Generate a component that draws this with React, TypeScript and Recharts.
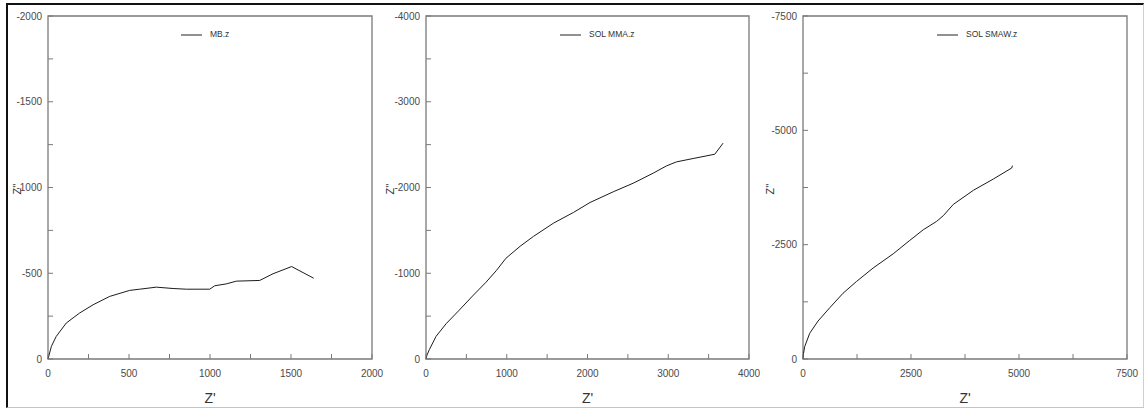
import React from 'react';
import { LineChart, Line, XAxis, YAxis, ReferenceArea, Legend } from 'recharts';

// MB.z  (Z', -Z'')
const mbRe = [0, 21, 51, 113, 195, 278, 381, 504, 566, 669, 772, 854, 998, 1029, 1101, 1163, 1307, 1389, 1504, 1640];
const mbIm = [0, -74, -132, -210, -268, -316, -365, -400, -407, -419, -411, -407, -407, -427, -438, -454, -458, -497, -539, -471];

// SOL MMA.z
const mmaRe = [0, 12, 41, 124, 248, 412, 577, 743, 870, 990, 1166, 1331, 1578, 1826, 2031, 2319, 2566, 2813, 2978, 3102, 3308, 3576, 3679];
const mmaIm = [0, -45, -108, -263, -410, -570, -735, -895, -1030, -1175, -1315, -1430, -1584, -1709, -1825, -1950, -2050, -2167, -2252, -2299, -2338, -2388, -2517];

// SOL SMAW.z
const smawRe = [0, 12, 39, 155, 348, 619, 928, 1237, 1624, 2088, 2474, 2784, 3093, 3247, 3479, 3943, 4407, 4832, 4848];
const smawIm = [0, -120, -270, -562, -830, -1120, -1439, -1694, -1990, -2300, -2595, -2826, -3009, -3133, -3380, -3688, -3936, -4177, -4228];

const mbXTicks = [0, 250, 500, 750, 1000, 1250, 1500, 1750, 2000];
const mbYTicks = [-2000, -1750, -1500, -1250, -1000, -750, -500, -250, 0];
const mmaXTicks = [0, 500, 1000, 1500, 2000, 2500, 3000, 3500, 4000];
const mmaYTicks = [-4000, -3500, -3000, -2500, -2000, -1500, -1000, -500, 0];
const smawXTicks = [0, 1250, 2500, 3750, 5000, 6250, 7500];
const smawYTicks = [-7500, -6250, -5000, -3750, -2500, -1250, 0];

const FONT = '"Liberation Sans", Arial, sans-serif';
const FRAME = '#7a7a7a';
const TXT = '#4a4a4a';

const zip = (re: number[], im: number[]) => re.map((x, i) => ({ x, y: im[i] }));

const xTick = (labelStep: number) => (p: any) => {
  const { x, y, payload } = p;
  const v = payload.value;
  return (
    <g>
      <line x1={x} x2={x} y1={y} y2={y - 5} stroke={FRAME} />
      {v % labelStep === 0 && (
        <text x={x} y={y + 18} textAnchor="middle" fontSize={10} fill={TXT} fontFamily={FONT}>
          {v}
        </text>
      )}
    </g>
  );
};

const yTick = (labelStep: number) => (p: any) => {
  const { x, y, payload } = p;
  const v = payload.value;
  return (
    <g>
      <line x1={x} x2={x + 5} y1={y} y2={y} stroke={FRAME} />
      {v % labelStep === 0 && (
        <text x={x - 6} y={y + 3.5} textAnchor="end" fontSize={10} fill={TXT} fontFamily={FONT}>
          {v}
        </text>
      )}
    </g>
  );
};

const xTitle = (p: any) => {
  const vb = p.viewBox || {};
  return (
    <text x={vb.x + vb.width / 2} y={403} textAnchor="middle" fontSize={14} fill="#333" fontFamily={FONT}>
      Z'
    </text>
  );
};

const yTitle = (dx: number) => (p: any) => {
  const vb = p.viewBox || {};
  const cx = (vb.x || 0) + dx;
  const cy = 189;
  return (
    <text
      x={cx}
      y={cy}
      transform={`rotate(-90, ${cx}, ${cy})`}
      textAnchor="middle"
      dominantBaseline="central"
      fontSize={11}
      fill="#333"
      fontFamily={FONT}
    >
      Z''
    </text>
  );
};

interface PanelProps {
  left: number;
  width: number;
  yAxisWidth: number;
  right: number;
  data: { x: number; y: number }[];
  name: string;
  xTicks: number[];
  yTicks: number[];
  labelStep: number;
  legendX: number;
  titleDx: number;
}

const Panel = ({ left, width, yAxisWidth, right, data, name, xTicks, yTicks, labelStep, legendX, titleDx }: PanelProps) => {
  const xMax = xTicks[xTicks.length - 1];
  const yMin = yTicks[0];
  return (
    <div style={{ position: 'absolute', left, top: 0 }}>
      <LineChart width={width} height={409} data={data} margin={{ top: 16, right, bottom: 0, left: 0 }}>
        <XAxis
          type="number"
          dataKey="x"
          domain={[0, xMax]}
          ticks={xTicks}
          interval={0}
          height={50}
          axisLine={false}
          tickLine={false}
          tickSize={0}
          tickMargin={0}
          tick={xTick(labelStep)}
          label={{ content: xTitle }}
        />
        <YAxis
          type="number"
          dataKey="y"
          domain={[yMin, 0]}
          reversed
          ticks={yTicks}
          interval={0}
          width={yAxisWidth}
          axisLine={false}
          tickLine={false}
          tickSize={0}
          tickMargin={0}
          tick={yTick(labelStep)}
          label={{ content: yTitle(titleDx) }}
        />
        <ReferenceArea x1={0} x2={xMax} y1={yMin} y2={0} fill="none" stroke={FRAME} strokeWidth={1.3} />
        <Legend
          layout="horizontal"
          verticalAlign="middle"
          align="center"
          wrapperStyle={{ position: 'absolute', left: legendX - left, top: 29, width: 'auto' }}
          content={() => (
            <div style={{ display: 'flex', alignItems: 'center', fontFamily: FONT }}>
              <svg width={21} height={4} style={{ display: 'block' }}>
                <line x1={0} x2={21} y1={2} y2={2} stroke="#222" strokeWidth={1} />
              </svg>
              <span style={{ marginLeft: 8, fontSize: 8.5, color: '#333', lineHeight: '11px' }}>{name}</span>
            </div>
          )}
        />
        <Line
          type="linear"
          dataKey="y"
          name={name}
          stroke="#1c1c1c"
          strokeWidth={1}
          dot={false}
          isAnimationActive={false}
        />
      </LineChart>
    </div>
  );
};

export default function App() {
  return (
    <div style={{ position: 'absolute', left: 0, top: 0, width: 1144, height: 409, background: '#fff', overflow: 'hidden' }}>
      <div
        style={{
          position: 'absolute',
          left: 6,
          top: 3,
          width: 1138,
          height: 405,
          boxSizing: 'border-box',
          borderTop: '2px solid #111',
          borderLeft: '2px solid #111',
          borderBottom: '1px solid #c4c4c4',
          borderRight: '1px solid #d0d0d0',
        }}
      />
      <Panel left={0} width={394} yAxisWidth={48} right={22} data={zip(mbRe, mbIm)} name="MB.z"
        xTicks={mbXTicks} yTicks={mbYTicks} labelStep={500} legendX={181} titleDx={17} />
      <Panel left={380} width={394} yAxisWidth={46} right={25} data={zip(mmaRe, mmaIm)} name="SOL MMA.z"
        xTicks={mmaXTicks} yTicks={mmaYTicks} labelStep={1000} legendX={560} titleDx={9.5} />
      <Panel left={760} width={384} yAxisWidth={43} right={17} data={zip(smawRe, smawIm)} name="SOL SMAW.z"
        xTicks={smawXTicks} yTicks={smawYTicks} labelStep={2500} legendX={937} titleDx={10} />
    </div>
  );
}
